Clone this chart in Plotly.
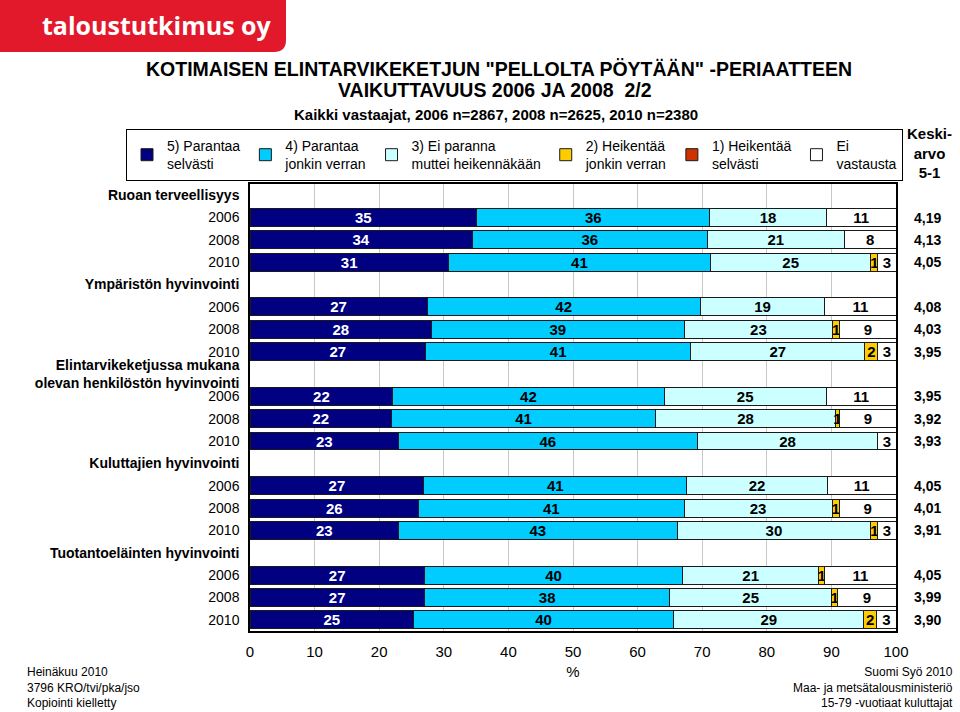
import plotly.graph_objects as go

# ---------------- data ----------------
groups = ["Ruoan terveellisyys", "Ympäristön hyvinvointi",
          "Elintarvikeketjussa mukana<br>olevan henkilöstön hyvinvointi",
          "Kuluttajien hyvinvointi", "Tuotantoeläinten hyvinvointi"]
years = ["2006", "2008", "2010"]

series_names = ["5) Parantaa<br>selvästi", "4) Parantaa<br>jonkin verran",
                "3) Ei paranna<br>muttei heikennäkään", "2) Heikentää<br>jonkin verran",
                "1) Heikentää<br>selvästi", "Ei<br>vastausta"]
p5 = [35.1, 34.4, 30.7, 27.4, 28.1, 27.2, 22.1, 21.9, 23.0, 26.9, 26.1, 23.0, 27.0, 27.0, 25.3]
p4 = [36.1, 36.4, 40.6, 42.3, 39.1, 41.0, 42.0, 40.9, 46.2, 40.7, 41.1, 43.1, 40.0, 38.0, 40.3]
p3 = [18.0, 21.2, 24.8, 19.3, 23.0, 27.0, 25.1, 27.8, 28.0, 21.8, 22.9, 30.0, 21.0, 25.0, 29.4]
p2 = [None, None, 1.1, None, 1.1, 2.0, None, 0.7, None, None, 1.1, 1.1, 1.0, 1.0, 2.0]
p1 = [None] * 15
ei = [10.8, 8.0, 2.8, 11.0, 8.7, 2.8, 10.8, 8.7, 2.8, 10.6, 8.8, 2.8, 11.0, 9.0, 3.0]
keskiarvo = ["4,19", "4,13", "4,05", "4,08", "4,03", "3,95", "3,95", "3,92", "3,93",
             "4,05", "4,01", "3,91", "4,05", "3,99", "3,90"]
x_ticks = [0, 10, 20, 30, 40, 50, 60, 70, 80, 90, 100]

colors = ["#000080", "#00CCFF", "#CCFFFF", "#FFCC00", "#CC3300", "#FFFFFF"]
text_colors = ["white", "black", "black", "black", "black", "black"]
series_vals = [p5, p4, p3, p2, p1, ei]

# ---------------- rows ----------------
row_labels = []
year_rows = []
for g in groups:
    row_labels.append("<b>" + g + "</b>")
    for y in years:
        year_rows.append(len(row_labels))
        row_labels.append(y)
row_pos = list(range(len(row_labels)))

W, H = 960, 712
L, R, T, B = 250, 64, 184, 81
PW, PH = W - L - R, H - T - B


def px(xp):
    return (xp - L) / PW


def py(yp):
    return (H - B - yp) / PH


NARROW = "Liberation Sans Narrow, Arial Narrow, Liberation Sans, Arial"
SANS = "Liberation Sans, Arial, sans-serif"

fig = go.Figure()
for name, vals, c, tc in zip(series_names, series_vals, colors, text_colors):
    fig.add_trace(go.Bar(
        name=name, x=vals, y=year_rows, orientation="h", width=0.8,
        marker=dict(color=c, line=dict(color="#1a1a1a", width=1)),
        texttemplate="<b>%{x:.0f}</b>", textposition="inside",
        insidetextanchor="middle", constraintext="none", textangle=0,
        textfont=dict(family=NARROW, size=15, color=tc),
        hoverinfo="skip",
    ))


def note(x, y, text, size=14, family=SANS, xanchor="center", align="center", yref="paper", **kw):
    return dict(x=x, y=y, xref="paper", yref=yref, text=text, showarrow=False,
                xanchor=xanchor, yanchor="middle", align=align,
                font=dict(family=family, size=size, color=kw.get("color", "black")))


annotations = []
for r, k in zip(year_rows, keskiarvo):
    annotations.append(note(px(927), r, "<b>" + k + "</b>", yref="y"))
annotations += [
    note(px(929), py(153), "<b>Keski-<br>arvo<br>5-1</b>", size=15),
    note(px(499), py(69), "<b>KOTIMAISEN ELINTARVIKEKETJUN \"PELLOLTA PÖYTÄÄN\" -PERIAATTEEN</b>",
         size=19.5),
    note(px(495), py(90), "<b>VAIKUTTAVUUS 2006 JA 2008  2/2</b>", size=19.5),
    note(px(496), py(114), "<b>Kaikki vastaajat, 2006 n=2867, 2008 n=2625, 2010 n=2380</b>",
         size=15),
    note(px(157), py(25), "<b>taloustutkimus oy</b>", size=25,
         family="Open Sans, " + SANS, color="white"),
    note(px(25), py(687), "Heinäkuu 2010<br>3796 KRO/tvi/pka/jso<br>Kopiointi kielletty",
         size=12, xanchor="left", align="left"),
    note(px(955), py(687), "Suomi Syö 2010<br>Maa- ja metsätalousministeriö<br>15-79 -vuotiaat kuluttajat",
         size=12, family=NARROW, xanchor="right", align="right"),
]

logo_path = (f"M {px(0)},{py(0)} L {px(286)},{py(0)} L {px(286)},{py(40)} "
             f"Q {px(286)},{py(52)} {px(274)},{py(52)} L {px(0)},{py(52)} Z")
shapes = [dict(type="path", xref="paper", yref="paper", path=logo_path,
               fillcolor="#E2182B", line=dict(width=0), layer="below")]

fig.update_layout(
    width=W, height=H,
    margin=dict(l=L, r=R, t=T, b=B, pad=0, autoexpand=False),
    paper_bgcolor="white", plot_bgcolor="white",
    barmode="stack", bargap=0.2,
    font=dict(family=SANS, size=14, color="black"),
    showlegend=True,
    legend=dict(orientation="h", x=px(126), y=py(129), xanchor="left", yanchor="top",
                bordercolor="black", borderwidth=1, bgcolor="white",
                font=dict(family=SANS, size=14, color="black"),
                traceorder="normal", itemwidth=30, tracegroupgap=0),
    xaxis=dict(range=[0, 100], tickvals=x_ticks, ticktext=[str(v) for v in x_ticks],
               showgrid=True, gridcolor="#C8C8C8", gridwidth=1, zeroline=False,
               showline=True, linecolor="black", linewidth=1.5, mirror=True,
               ticks="", ticklabelstandoff=6, tickfont=dict(family=NARROW, size=15),
               title=dict(text="%", font=dict(family=NARROW, size=15), standoff=8)),
    yaxis=dict(range=[len(row_labels) - 0.5, -0.5], tickvals=row_pos, ticktext=row_labels,
               showgrid=False, zeroline=False, showline=True, linecolor="black",
               linewidth=1.5, mirror=True, ticks="", ticklabelstandoff=6,
               tickfont=dict(family=SANS, size=14)),
    annotations=annotations, shapes=shapes,
)

fig.write_html("out.html", config={"displayModeBar": False},
               post_script="document.body.style.margin='0';document.body.style.overflow='hidden';")
